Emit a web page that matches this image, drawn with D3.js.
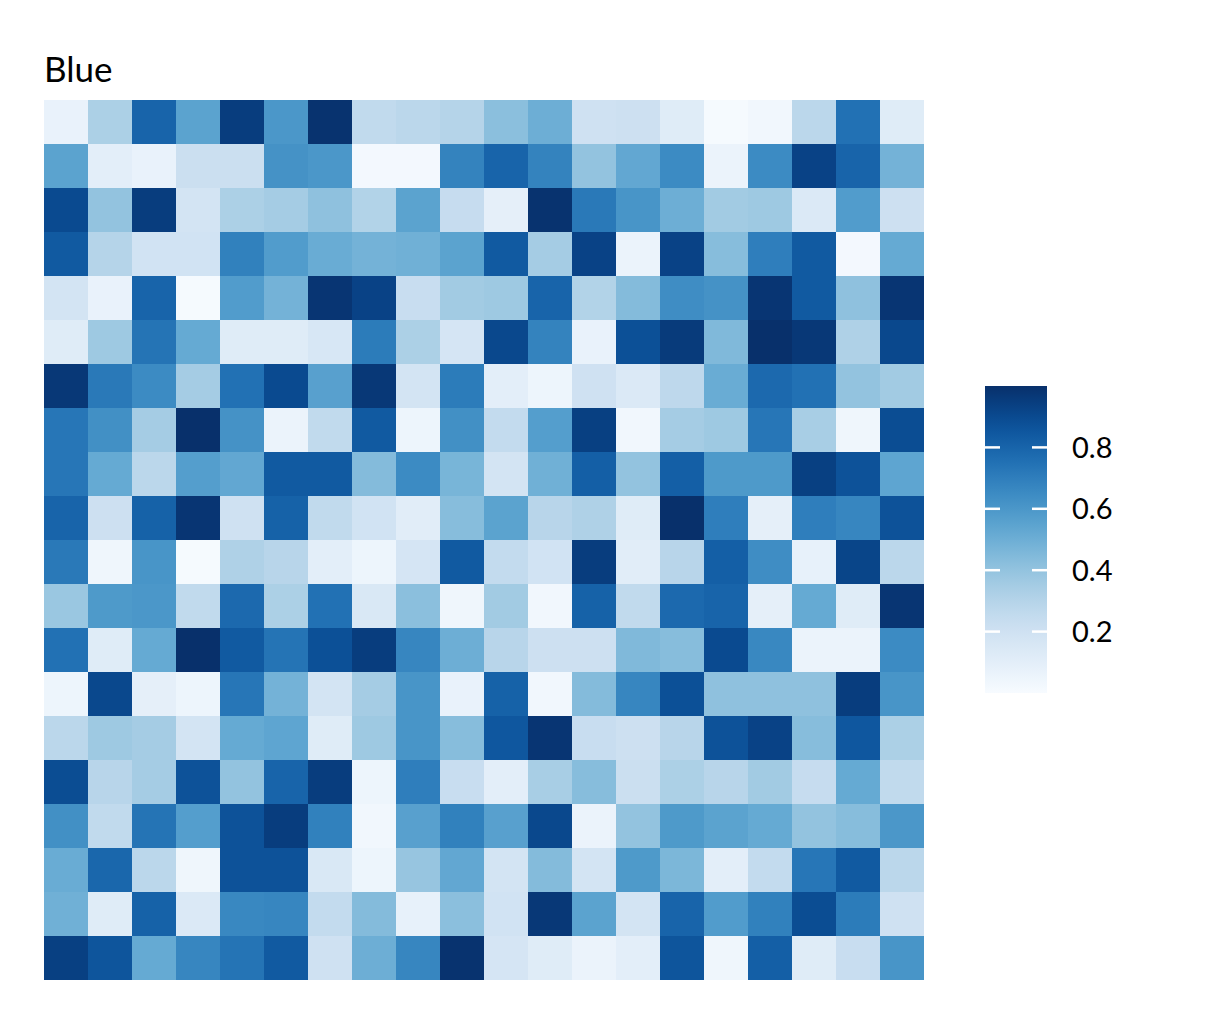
<!DOCTYPE html>
<html>
<head>
<meta charset="utf-8">
<script src="https://cdn.jsdelivr.net/npm/d3@7"></script>
<style>
  body { margin: 0; background: #fff; }
  text { font-family: Lato, "Open Sans", sans-serif; fill: #000; }
</style>
</head>
<body>
<svg id="chart" width="1218" height="1024"></svg>
<script>
// grid categories
const colNames = d3.range(1, 21).map(i => "C" + i);
const rowNames = d3.range(1, 21).map(i => "R" + i);

// cell values, one array per row (top to bottom)
const values = [
  [0.07, 0.33, 0.80, 0.55, 0.95, 0.60, 0.99, 0.26, 0.28, 0.30, 0.42, 0.50, 0.20, 0.21, 0.12, 0.01, 0.03, 0.28, 0.75, 0.12],
  [0.55, 0.10, 0.07, 0.22, 0.22, 0.62, 0.60, 0.02, 0.02, 0.68, 0.80, 0.68, 0.40, 0.53, 0.65, 0.06, 0.65, 0.93, 0.80, 0.48],
  [0.90, 0.40, 0.95, 0.18, 0.33, 0.35, 0.41, 0.31, 0.55, 0.24, 0.09, 0.99, 0.72, 0.61, 0.50, 0.36, 0.37, 0.14, 0.58, 0.21],
  [0.84, 0.30, 0.19, 0.19, 0.69, 0.58, 0.51, 0.48, 0.49, 0.55, 0.84, 0.35, 0.93, 0.06, 0.93, 0.43, 0.70, 0.84, 0.02, 0.52],
  [0.18, 0.07, 0.80, 0.01, 0.58, 0.48, 0.98, 0.93, 0.23, 0.36, 0.37, 0.80, 0.31, 0.44, 0.64, 0.62, 0.98, 0.84, 0.41, 0.98],
  [0.12, 0.37, 0.74, 0.52, 0.12, 0.12, 0.16, 0.71, 0.33, 0.17, 0.91, 0.68, 0.07, 0.88, 0.96, 0.45, 1.00, 0.97, 0.32, 0.91],
  [0.97, 0.72, 0.65, 0.35, 0.75, 0.90, 0.56, 0.97, 0.18, 0.71, 0.10, 0.05, 0.20, 0.14, 0.27, 0.51, 0.78, 0.75, 0.40, 0.36],
  [0.73, 0.63, 0.35, 1.00, 0.62, 0.06, 0.26, 0.84, 0.05, 0.63, 0.25, 0.57, 0.94, 0.03, 0.35, 0.37, 0.73, 0.34, 0.04, 0.89],
  [0.73, 0.52, 0.28, 0.57, 0.53, 0.84, 0.84, 0.44, 0.65, 0.47, 0.18, 0.49, 0.82, 0.40, 0.82, 0.59, 0.59, 0.94, 0.87, 0.54],
  [0.80, 0.21, 0.81, 0.98, 0.20, 0.81, 0.26, 0.19, 0.11, 0.43, 0.55, 0.29, 0.32, 0.12, 1.00, 0.70, 0.09, 0.70, 0.67, 0.87],
  [0.72, 0.04, 0.61, 0.01, 0.32, 0.29, 0.10, 0.05, 0.17, 0.84, 0.25, 0.19, 0.95, 0.11, 0.29, 0.82, 0.64, 0.08, 0.92, 0.28],
  [0.38, 0.59, 0.60, 0.26, 0.78, 0.33, 0.75, 0.15, 0.42, 0.04, 0.36, 0.03, 0.81, 0.26, 0.78, 0.80, 0.09, 0.52, 0.12, 0.98],
  [0.75, 0.12, 0.52, 1.00, 0.84, 0.74, 0.88, 0.95, 0.67, 0.50, 0.29, 0.21, 0.21, 0.45, 0.43, 0.90, 0.66, 0.06, 0.06, 0.65],
  [0.05, 0.91, 0.09, 0.05, 0.73, 0.48, 0.18, 0.35, 0.61, 0.07, 0.81, 0.03, 0.44, 0.67, 0.88, 0.41, 0.41, 0.41, 0.95, 0.61],
  [0.28, 0.37, 0.35, 0.18, 0.52, 0.54, 0.12, 0.37, 0.61, 0.43, 0.85, 0.98, 0.23, 0.21, 0.29, 0.87, 0.93, 0.43, 0.85, 0.33],
  [0.89, 0.29, 0.35, 0.87, 0.40, 0.80, 0.95, 0.05, 0.70, 0.23, 0.10, 0.34, 0.43, 0.22, 0.33, 0.29, 0.36, 0.24, 0.52, 0.26],
  [0.63, 0.26, 0.74, 0.57, 0.87, 0.95, 0.69, 0.03, 0.56, 0.69, 0.56, 0.91, 0.06, 0.40, 0.59, 0.55, 0.52, 0.40, 0.43, 0.60],
  [0.51, 0.79, 0.28, 0.04, 0.87, 0.87, 0.15, 0.05, 0.39, 0.53, 0.18, 0.44, 0.18, 0.59, 0.46, 0.10, 0.25, 0.73, 0.84, 0.28],
  [0.49, 0.12, 0.81, 0.14, 0.66, 0.67, 0.25, 0.44, 0.08, 0.42, 0.19, 0.97, 0.55, 0.18, 0.80, 0.58, 0.69, 0.89, 0.71, 0.20],
  [0.94, 0.86, 0.52, 0.67, 0.74, 0.84, 0.20, 0.50, 0.67, 0.99, 0.17, 0.12, 0.06, 0.10, 0.86, 0.04, 0.82, 0.12, 0.23, 0.61]
];

const fillRange = [0, 1];
const legendTicks = [0.2, 0.4, 0.6, 0.8];
const title = "Blue";

const svg = d3.select("#chart"),
    margin = { top: 100, left: 44 },
    size = 880;

const cells = [];
values.forEach((row, i) => row.forEach((v, j) => cells.push({ row: rowNames[i], col: colNames[j], value: v })));

const x = d3.scaleBand().domain(colNames).range([0, size]);
const y = d3.scaleBand().domain(rowNames).range([0, size]);
const color = d3.scaleSequential(d3.interpolateBlues).domain(fillRange);

const g = svg.append("g").attr("transform", `translate(${margin.left},${margin.top})`);

g.selectAll("rect")
    .data(cells)
    .join("rect")
    .attr("x", d => x(d.col))
    .attr("y", d => y(d.row))
    .attr("width", x.bandwidth())
    .attr("height", y.bandwidth())
    .attr("fill", d => color(d.value))
    .attr("shape-rendering", "crispEdges");

svg.append("text")
    .attr("x", 44)
    .attr("y", 82)
    .attr("font-size", 35)
    .text(title);

// colour bar
const barX = 985, barW = 62, barTop = 386, barBottom = 693;
const ly = d3.scaleLinear().domain(fillRange).range([barBottom, barTop]);

const grad = svg.append("defs").append("linearGradient")
    .attr("id", "blues")
    .attr("x1", 0).attr("y1", 1).attr("x2", 0).attr("y2", 0);
d3.range(0, 1.0001, 0.05).forEach(t => {
    grad.append("stop")
        .attr("offset", t)
        .attr("stop-color", color(fillRange[0] + t * (fillRange[1] - fillRange[0])));
});

const lg = svg.append("g");
lg.append("rect")
    .attr("x", barX)
    .attr("y", barTop)
    .attr("width", barW)
    .attr("height", barBottom - barTop)
    .attr("fill", "url(#blues)");

legendTicks.forEach(t => {
    lg.append("line")
        .attr("x1", barX).attr("x2", barX + 15)
        .attr("y1", ly(t)).attr("y2", ly(t))
        .attr("stroke", "#fff").attr("stroke-width", 2.5);
    lg.append("line")
        .attr("x1", barX + barW - 15).attr("x2", barX + barW)
        .attr("y1", ly(t)).attr("y2", ly(t))
        .attr("stroke", "#fff").attr("stroke-width", 2.5);
    lg.append("text")
        .attr("x", 1072)
        .attr("y", ly(t))
        .attr("dy", "0.36em")
        .attr("font-size", 29)
        .text(t.toFixed(1));
});
</script>
</body>
</html>
